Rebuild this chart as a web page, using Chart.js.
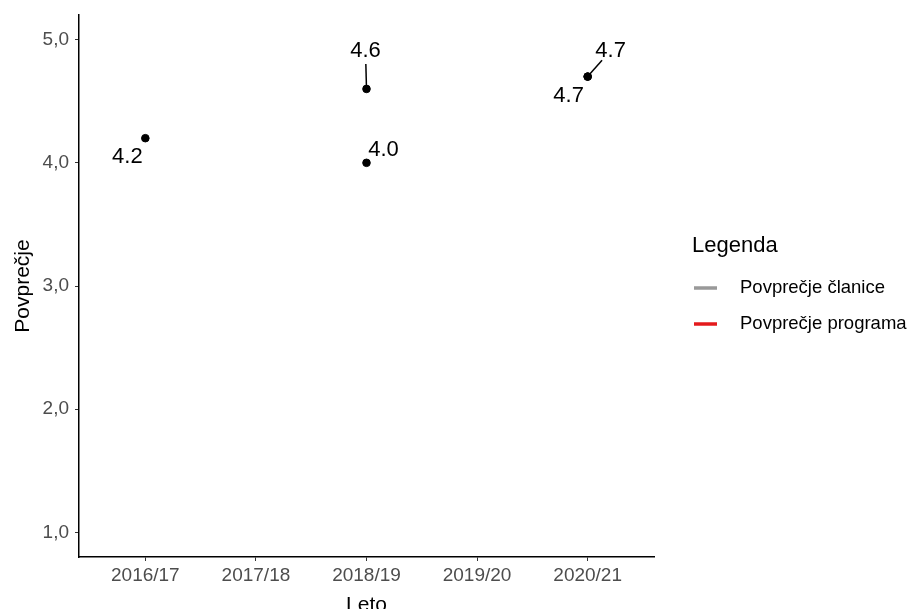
<!DOCTYPE html>
<html><head><meta charset="utf-8">
<script src="https://cdn.jsdelivr.net/npm/chart.js@4"></script>
<style>html,body{margin:0;padding:0;background:#fff;}#wrap{width:913px;height:609px;position:relative;overflow:hidden;}</style>
</head><body><div id="wrap"><canvas id="c" width="913" height="609"></canvas></div>
<script>
const categories = ['2016/17','2017/18','2018/19','2019/20','2020/21'];
const seriesClanice = [4.2, null, 4.6, null, 4.7];
const seriesPrograma = [null, null, 4.0, null, 4.7];
const yTicks = [1,2,3,4,5];
const legendItems = ['Povprečje članice','Povprečje programa'];
const legendColors = ['#999999','#e41a1c'];
// label placement (pixel offsets from point): [dx, dy, segment]
const labelOffsetsA = [[-18,19,false],null,[-1,-38,true],null,[23,-26,true]];
const labelOffsetsB = [null,null,[17,-13,false],null,[-19,19,false]];

function toPoints(arr){const r=[];arr.forEach((v,i)=>{if(v!==null)r.push({x:i,y:v});});return r;}

const FONT = '"Liberation Sans", Arial, sans-serif';

const labelPlugin = {
  id:'labels',
  afterDatasetsDraw(chart){
    const ctx=chart.ctx, xs=chart.scales.x, ys=chart.scales.y;
    ctx.save();
    ctx.font='22px '+FONT; ctx.fillStyle='#000'; ctx.textAlign='center'; ctx.textBaseline='middle';
    [[seriesClanice,labelOffsetsA],[seriesPrograma,labelOffsetsB]].forEach(([s,offs])=>{
      s.forEach((v,i)=>{
        if(v===null||!offs[i])return;
        const px=xs.getPixelForValue(i), py=ys.getPixelForValue(v);
        const [dx,dy,seg]=offs[i];
        const lx=px+dx, ly=py+dy;
        if(seg){
          const len=Math.hypot(dx,dy);
          const ux=dx/len, uy=dy/len;
          ctx.strokeStyle='#000'; ctx.lineWidth=1.5;
          ctx.beginPath();
          ctx.moveTo(px+ux*3, py+uy*3);
          ctx.lineTo(lx-ux*13, ly-uy*13);
          ctx.stroke();
        }
        ctx.fillText(v.toFixed(1), lx, ly);
      });
    });
    // axis titles
    ctx.fillStyle='#000'; ctx.font='21px '+FONT;
    ctx.textBaseline='alphabetic';
    ctx.fillText('Leto', (chart.chartArea.left+chart.chartArea.right)/2, 611);
    ctx.save();
    ctx.translate(23,(chart.chartArea.top+chart.chartArea.bottom)/2);
    ctx.rotate(-Math.PI/2);
    ctx.textBaseline='middle';
    ctx.fillText('Povprečje',0,0);
    ctx.restore();
    // legend
    ctx.textAlign='left';
    ctx.textBaseline='alphabetic';
    ctx.font='22px '+FONT; ctx.fillStyle='#000';
    ctx.fillText('Legenda', 692, 252);
    ctx.font='18.5px '+FONT;
    ctx.textBaseline='middle';
    legendItems.forEach((t,k)=>{
      const y=288+k*36;
      ctx.strokeStyle=legendColors[k]; ctx.lineWidth=3.5;
      ctx.beginPath(); ctx.moveTo(694,y); ctx.lineTo(717,y); ctx.stroke();
      ctx.fillStyle='#000';
      ctx.fillText(t, 740, y);
    });
    ctx.restore();
  }
};

new Chart(document.getElementById('c'),{
  type:'scatter',
  data:{datasets:[
    {label:legendItems[0],data:toPoints(seriesClanice),backgroundColor:'#000',borderColor:'#000',pointRadius:3.8},
    {label:legendItems[1],data:toPoints(seriesPrograma),backgroundColor:'#000',borderColor:'#000',pointRadius:3.8}
  ]},
  options:{
    responsive:false,animation:false,
    layout:{padding:{left:0,right:259,top:15,bottom:0}},
    plugins:{legend:{display:false},tooltip:{enabled:false}},
    scales:{
      x:{type:'linear',min:-0.6,max:4.6,
        afterBuildTicks(s){s.ticks=categories.map((c,i)=>({value:i}));},
        afterFit(s){s.height=52;s.paddingLeft=0;s.paddingRight=0;},
        ticks:{callback:(v)=>categories[v],font:{family:FONT,size:19},color:'#4d4d4d',padding:3,maxRotation:0,autoSkip:false},
        grid:{drawOnChartArea:false,drawTicks:true,tickLength:4,color:'#333',lineWidth:1},
        border:{display:true,color:'#000',width:1.5}
      },
      y:{type:'linear',min:0.8,max:5.2,
        afterBuildTicks(s){s.ticks=yTicks.map(v=>({value:v}));},
        afterFit(s){s.width=79;s.paddingTop=0;s.paddingBottom=0;},
        ticks:{callback:(v)=>v.toFixed(1).replace('.',','),font:{family:FONT,size:19},color:'#4d4d4d',padding:6},
        grid:{drawOnChartArea:false,drawTicks:true,tickLength:4,color:'#333',lineWidth:1},
        border:{display:true,color:'#000',width:1.5}
      }
    }
  },
  plugins:[labelPlugin]
});
</script></body></html>
